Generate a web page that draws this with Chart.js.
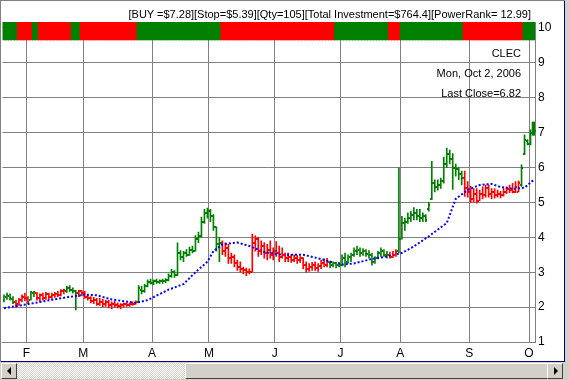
<!DOCTYPE html>
<html><head><meta charset="utf-8">
<script src="https://cdn.jsdelivr.net/npm/chart.js@4.4.0/dist/chart.umd.min.js"></script>
<style>
html,body{margin:0;padding:0;background:#d4d0c8;}
#wrap{position:relative;width:569px;height:380px;overflow:hidden;background:#d4d0c8;font-family:"Liberation Sans",Arial,sans-serif;}
#panel{position:absolute;left:0;top:0;width:564px;height:361px;background:#fff;border-right:1px solid #000080;border-bottom:1px solid #000080;}
#panel canvas{position:absolute;left:0;top:0;}
#hdr{position:absolute;right:33px;top:8px;font-size:11px;line-height:13px;white-space:nowrap;color:#000;}
.edgeL{position:absolute;left:0;top:0;width:1px;height:362px;background:#808080;}
.edgeT{position:absolute;left:0;top:0;width:565px;height:1px;background:#808080;}
#sb{position:absolute;left:0;top:363px;width:565px;height:16px;}
.btn{position:absolute;top:0;width:14px;height:14px;background:#d4d0c8;border-top:1px solid #fff;border-left:1px solid #fff;border-right:1px solid #404040;border-bottom:1px solid #404040;}
#track{position:absolute;left:17px;top:0;width:168px;height:16px;background:repeating-conic-gradient(#d4d0c8 0 25%,#fff 0 50%) 0 0/2px 2px;}
#thumb{position:absolute;left:185px;top:0;width:361px;height:14px;background:#d4d0c8;border-top:1px solid #fff;border-left:1px solid #fff;border-right:1px solid #404040;border-bottom:1px solid #404040;}
.arL,.arR{position:absolute;top:3px;width:0;height:0;border-top:4px solid transparent;border-bottom:4px solid transparent;}
.arL{left:5px;border-right:4px solid #000;}
.arR{left:6px;border-left:4px solid #000;}
</style></head>
<body>
<div id="wrap">
  <div id="panel">
    <canvas id="c" width="564" height="361"></canvas>
    <div id="hdr">[BUY =$7.28][Stop=$5.39][Qty=105][Total Investment=$764.4][PowerRank= 12.99]</div>
  </div>
  <div class="edgeL"></div><div class="edgeT"></div>
  <div id="sb">
    <div class="btn" style="left:1px"><div class="arL"></div></div>
    <div id="track"></div>
    <div id="thumb"></div>
    <div class="btn" style="left:547px"><div class="arR"></div></div>
  </div>
</div>
<script>
// ---- data ----
const openP = [
2.20,2.28,2.33,2.22,2.15,2.10,2.20,2.28,2.25,2.20,
2.40,2.40,2.25,2.35,2.25,2.38,2.30,2.35,2.38,2.35,
2.45,2.45,2.55,2.50,2.45,2.40,2.45,2.40,2.30,2.25,
2.18,2.20,2.10,2.15,2.08,2.15,2.05,2.10,2.05,2.02,
2.05,2.08,2.05,2.10,2.10,2.15,2.50,2.45,2.60,2.72,
2.70,2.75,2.72,2.74,2.76,2.78,2.90,3.00,2.92,3.55,
3.45,3.55,3.50,3.65,3.62,3.95,4.05,4.45,4.70,4.75,
4.60,4.30,3.80,3.85,3.60,3.70,3.40,3.45,3.25,3.15,
3.10,3.05,3.00,3.02,3.85,3.95,3.60,3.75,3.55,3.65,
3.50,3.60,3.55,3.45,3.50,3.40,3.45,3.35,3.42,3.35,
3.40,3.20,3.10,3.15,3.20,3.12,3.18,3.25,3.20,3.25,
3.22,3.25,3.20,3.22,3.40,3.30,3.45,3.50,3.60,3.65,
3.55,3.60,3.52,3.50,3.30,3.40,3.55,3.60,3.50,3.48,
3.45,3.50,3.60,3.95,4.40,4.45,4.55,4.65,4.70,4.60,
4.55,4.60,4.80,5.10,5.55,5.45,5.50,5.60,6.10,6.40,
6.25,6.00,5.95,5.80,5.70,5.40,5.30,5.10,5.25,5.05,
5.25,5.20,5.40,5.25,5.30,5.20,5.25,5.20,5.30,5.38,
5.35,5.30,5.30,5.50,6.40,6.75,6.68,7.00];
const highP = [
2.35,2.40,2.38,2.30,2.20,2.25,2.35,2.40,2.30,2.45,
2.45,2.42,2.38,2.40,2.42,2.40,2.40,2.42,2.45,2.50,
2.52,2.60,2.62,2.55,2.48,2.48,2.48,2.45,2.35,2.30,
2.28,2.25,2.25,2.22,2.20,2.20,2.15,2.18,2.12,2.10,
2.12,2.12,2.12,2.15,2.18,2.62,2.60,2.65,2.78,2.80,
2.78,2.80,2.78,2.80,2.82,2.95,3.08,3.05,3.84,3.62,
3.60,3.65,3.72,3.75,4.05,4.15,4.58,4.80,4.84,4.80,
4.65,4.30,4.00,3.90,3.84,3.80,3.55,3.50,3.35,3.30,
3.15,3.12,3.10,4.09,4.04,4.00,3.90,3.85,3.80,3.90,
3.70,3.88,3.75,3.70,3.55,3.55,3.50,3.50,3.48,3.45,
3.42,3.30,3.25,3.28,3.30,3.25,3.35,3.38,3.40,3.32,
3.30,3.28,3.28,3.50,3.55,3.50,3.55,3.70,3.75,3.70,
3.68,3.65,3.62,3.55,3.45,3.60,3.70,3.65,3.60,3.58,
3.60,3.65,5.99,4.60,4.55,4.70,4.75,4.85,4.80,4.80,
4.70,4.65,5.00,6.18,5.65,5.65,5.70,6.30,6.56,6.50,
6.40,6.10,6.00,5.90,5.90,5.60,5.46,5.40,5.40,5.35,
5.45,5.50,5.50,5.40,5.40,5.35,5.32,5.40,5.45,5.50,
5.55,5.60,5.62,6.08,6.94,6.80,7.08,7.30];
const lowP = [
2.15,2.22,2.20,2.10,2.00,2.05,2.15,2.18,2.10,2.20,
2.30,2.20,2.15,2.20,2.22,2.22,2.25,2.28,2.30,2.32,
2.38,2.42,2.45,2.40,1.92,2.30,2.32,2.25,2.20,2.12,
2.10,2.05,2.05,2.00,2.02,1.98,1.95,2.00,1.98,1.95,
2.00,2.02,2.02,2.05,2.08,2.15,2.38,2.42,2.58,2.66,
2.64,2.68,2.68,2.68,2.70,2.75,2.85,2.85,2.90,3.35,
3.30,3.45,3.48,3.55,3.60,3.85,4.00,4.40,4.55,4.45,
4.20,3.60,3.30,3.50,3.45,3.25,3.25,3.15,3.05,3.00,
2.95,2.90,2.95,3.00,3.60,3.45,3.50,3.40,3.35,3.40,
3.35,3.45,3.30,3.40,3.30,3.30,3.28,3.30,3.25,3.28,
3.10,3.00,3.02,3.05,3.05,3.02,3.10,3.15,3.15,3.12,
3.15,3.12,3.15,3.18,3.15,3.25,3.30,3.45,3.50,3.45,
3.48,3.45,3.40,3.20,3.25,3.38,3.45,3.45,3.40,3.40,
3.42,3.45,3.55,3.95,4.20,4.40,4.45,4.50,4.50,4.45,
4.45,4.45,4.75,5.08,5.30,5.35,5.40,5.55,6.00,6.10,
5.37,5.75,5.65,5.50,5.17,5.15,5.00,5.00,4.98,5.05,
5.10,5.15,5.15,5.10,5.12,5.15,5.13,5.18,5.25,5.28,
5.27,5.28,5.30,5.46,6.37,6.65,6.65,6.93];
const closeP = [
2.30,2.35,2.25,2.15,2.10,2.20,2.30,2.25,2.15,2.42,
2.42,2.25,2.35,2.25,2.38,2.30,2.35,2.38,2.35,2.45,
2.48,2.55,2.50,2.45,2.40,2.45,2.40,2.30,2.25,2.18,
2.20,2.10,2.15,2.08,2.15,2.05,2.10,2.05,2.02,2.05,
2.08,2.05,2.10,2.10,2.15,2.55,2.45,2.60,2.72,2.70,
2.75,2.72,2.74,2.76,2.78,2.90,3.00,2.92,3.55,3.45,
3.55,3.50,3.65,3.62,3.95,4.05,4.45,4.70,4.75,4.60,
4.30,3.80,3.85,3.60,3.70,3.40,3.45,3.25,3.15,3.10,
3.05,3.00,3.02,3.85,3.95,3.60,3.75,3.55,3.65,3.50,
3.60,3.55,3.45,3.50,3.40,3.45,3.35,3.42,3.35,3.40,
3.20,3.10,3.15,3.20,3.12,3.18,3.25,3.20,3.30,3.22,
3.25,3.20,3.22,3.40,3.30,3.45,3.50,3.60,3.65,3.55,
3.60,3.52,3.50,3.30,3.40,3.55,3.60,3.50,3.48,3.45,
3.50,3.58,3.95,4.40,4.45,4.55,4.65,4.70,4.60,4.55,
4.60,4.50,4.92,5.55,5.45,5.50,5.60,6.10,6.40,6.25,
6.00,5.95,5.80,5.70,5.40,5.30,5.10,5.25,5.05,5.25,
5.20,5.40,5.25,5.30,5.20,5.25,5.20,5.30,5.38,5.35,
5.30,5.45,5.55,6.00,6.80,6.68,7.00,7.05];
// bar colour runs: [colour, firstIndex, lastIndex]
const barTrend = [['g',0,3],['r',4,8],['g',9,10],['r',11,20],['g',21,24],['r',25,44],['g',45,72],
  ['r',73,108],['g',109,128],['r',129,131],['g',132,153],['r',154,172],['g',173,177]];
// signal strip runs
const signalRuns = [['g',0,4],['r',5,9],['g',10,11],['r',12,22],['g',23,25],['r',26,44],['g',45,72],
  ['r',73,110],['g',111,128],['r',129,132],['g',133,153],['r',154,173],['g',174,177]];
// moving average read at selected bars: [barIndex, value]
const maPoints = [[0,1.97],[9,2.10],[18,2.24],[27,2.36],[31,2.34],[36,2.22],[44,2.12],[48,2.20],
  [55,2.50],[60,2.66],[64,3.00],[68,3.30],[70,3.60],[73,3.80],[78,3.85],[82,3.75],[87,3.58],
  [93,3.50],[100,3.50],[105,3.40],[109,3.30],[113,3.22],[117,3.25],[123,3.38],[128,3.45],
  [133,3.55],[137,3.74],[142,4.03],[148,4.41],[151,5.10],[155,5.36],[159,5.50],[163,5.53],
  [166,5.44],[170,5.39],[174,5.42],[177,5.64]];
const monthLabels = ['F','M','A','M','J','J','A','S','O'];
const monthStart = [8,27,50,69,91,113,133,156,176];
const yTicks = [1,2,3,4,5,6,7,8,9,10];
const infoLines = ['CLEC','Mon, Oct 2, 2006','Last Close=6.82'];

// ---- build ----
const N = closeP.length;
const GREEN = '#008000', RED = '#ff0000';
const labels = Array.from({length:N},(_,i)=>String(i));
function runsToColors(runs){
  const a = new Array(N).fill(GREEN);
  runs.forEach(([c,s,e])=>{for(let i=s;i<=e;i++) a[i]= c==='g'?GREEN:RED;});
  return a;
}
const barColors = runsToColors(barTrend);
const stripColors = runsToColors(signalRuns);
const hl = highP.map((h,i)=>[lowP[i],h]);
const lastBar = hl.map((v,i)=> i===N-1 ? v : null);
const strip = labels.map(()=>[9.66,10.17]);
const ma = new Array(N).fill(null);
maPoints.forEach(([i,v])=>{ma[i]=v;});
const monthMap = {};
monthStart.forEach((s,k)=>{monthMap[s]=monthLabels[k];});

Chart.defaults.font.family = '"Liberation Sans", Arial, sans-serif';
Chart.defaults.font.size = 12;
Chart.defaults.color = '#000';

const ohlcTicks = {
  id:'ohlcTicks',
  afterDatasetsDraw(chart){
    const {ctx, scales:{x,y}} = chart;
    ctx.save();
    for(let i=0;i<N;i++){
      const px = Math.floor(x.getPixelForValue(i));
      const last = i===N-1;
      ctx.fillStyle = barColors[i];
      ctx.fillRect(last ? px-2 : px-1, Math.round(y.getPixelForValue(openP[i]))-1, 1, 2);
      ctx.fillRect(last ? px+2 : px+1, Math.round(y.getPixelForValue(closeP[i]))-1, 1, 2);
    }
    ctx.restore();
  }
};
const infoText = {
  id:'infoText',
  beforeDatasetsDraw(chart){
    const {ctx} = chart;
    ctx.save();
    ctx.font = '11px "Liberation Sans", Arial, sans-serif';
    ctx.fillStyle = '#000';
    ctx.textAlign = 'right';
    ctx.textBaseline = 'middle';
    infoLines.forEach((t,k)=>ctx.fillText(t, 521, 54 + k*20));
    ctx.restore();
  }
};

new Chart(document.getElementById('c'), {
  data:{
    labels,
    datasets:[
      {type:'line', data:ma, spanGaps:true, borderColor:'#0000ff', borderWidth:2, borderDash:[2,2],
       pointRadius:0, fill:false, tension:0, order:1},
      {type:'bar', data:lastBar, backgroundColor:GREEN, barThickness:3, grouped:false, order:2},
      {type:'bar', data:hl, backgroundColor:barColors, barThickness:1, grouped:false, order:3},
      {type:'bar', data:strip, backgroundColor:stripColors, barPercentage:1, categoryPercentage:1,
       inflateAmount:0.5, grouped:false, order:4}
    ]
  },
  options:{
    responsive:false, devicePixelRatio:1, animation:false,
    layout:{padding:{left:1, top:22, right:0, bottom:0}},
    plugins:{legend:{display:false}, tooltip:{enabled:false}, title:{display:false}},
    scales:{
      x:{type:'category', offset:true,
         grid:{offset:true, drawTicks:false, lineWidth:1,
               color:(c)=> (monthMap[c.index]!==undefined) ? '#808080' : 'rgba(0,0,0,0)'},
         border:{display:true, color:'#808080'},
         ticks:{autoSkip:false, maxRotation:0, minRotation:0, padding:4, labelOffset:-1.5,
                callback:(v,i)=> monthMap[i] || ''},
         afterFit:(s)=>{s.height = 19;}},
      y:{type:'linear', position:'right', min:1, max:10.17,
         grid:{drawTicks:false, color:'#808080', lineWidth:1},
         border:{display:true, color:'#808080'},
         afterBuildTicks:(s)=>{s.ticks = yTicks.map(v=>({value:v}));},
         ticks:{padding:3, callback:(v)=>String(v)},
         afterFit:(s)=>{s.width = 29;}}
    }
  },
  plugins:[ohlcTicks, infoText]
});
</script>
</body></html>
